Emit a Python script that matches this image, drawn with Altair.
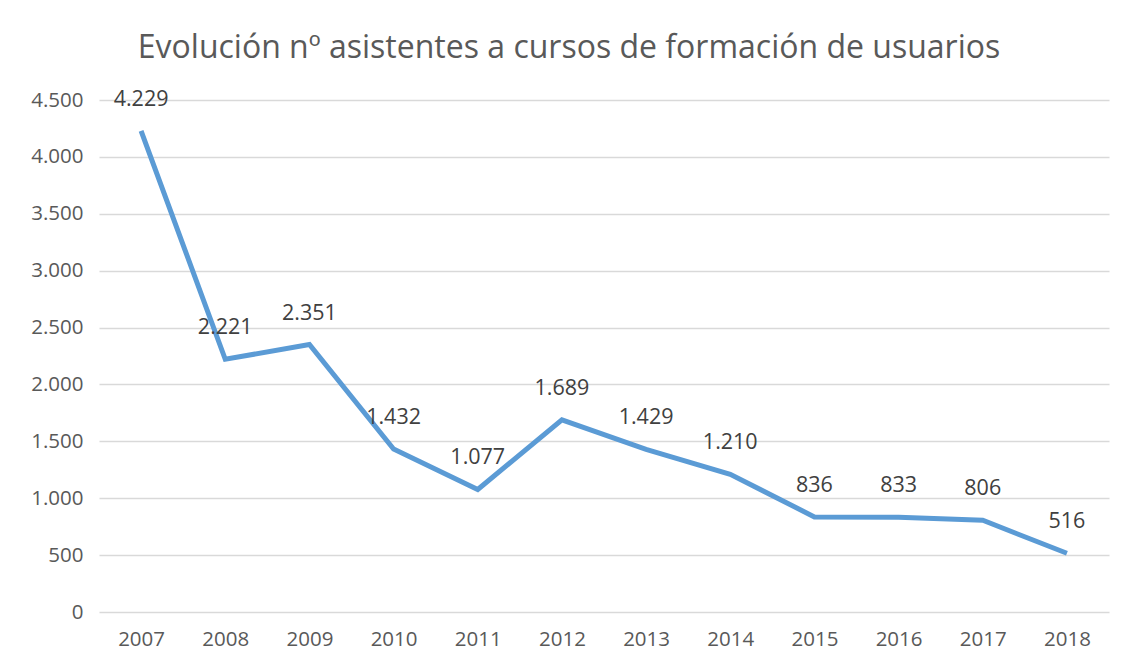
import altair as alt
import pandas as pd

years = ["2007", "2008", "2009", "2010", "2011", "2012", "2013", "2014", "2015", "2016", "2017", "2018"]
asistentes = [4229, 2221, 2351, 1432, 1077, 1689, 1429, 1210, 836, 833, 806, 516]
y_ticks = [0, 500, 1000, 1500, 2000, 2500, 3000, 3500, 4000, 4500]

df = pd.DataFrame({"year": years, "value": asistentes})

FONT = "Open Sans"
fmt_expr = "replace(format(datum.value, ','), ',', '.')"

base = alt.Chart(df).encode(
    x=alt.X("year:N", sort=years,
            scale=alt.Scale(type="point", padding=0.5),
            axis=alt.Axis(title=None, labelAngle=0, ticks=False, domain=False,
                          labelPadding=17, labelFontSize=20.5, labelColor="#595959",
                          labelFont=FONT, grid=False)),
    y=alt.Y("value:Q", scale=alt.Scale(domain=[0, 4500], nice=False),
            axis=alt.Axis(title=None, values=y_ticks, ticks=False, domain=False,
                          labelPadding=16, labelFontSize=20.5, labelColor="#595959",
                          labelFont=FONT, gridColor="#D9D9D9", gridWidth=1.3,
                          labelExpr=fmt_expr)),
)

line = base.mark_line(color="#5B9BD5", strokeWidth=5, strokeJoin="miter")

labels = base.transform_calculate(
    lab="replace(format(datum.value, ','), ',', '.')"
).mark_text(dy=-31, fontSize=21.5, color="#404040", font=FONT).encode(text="lab:N")

chart = alt.layer(line, labels).properties(
    width=1010, height=512,
    background="white",
    title=alt.TitleParams("Evolución nº asistentes a cursos de formación de usuarios",
                          fontSize=32, font=FONT, fontWeight="normal", color="#595959",
                          anchor="middle", dx=-35, offset=24),
    autosize=alt.AutoSizeParams(type="none"),
    padding={"left": 91, "top": 92, "right": 15, "bottom": 52},
).configure_view(strokeWidth=0, stroke="transparent")

chart.save("out.html", embed_options={"renderer": "svg", "actions": False})
